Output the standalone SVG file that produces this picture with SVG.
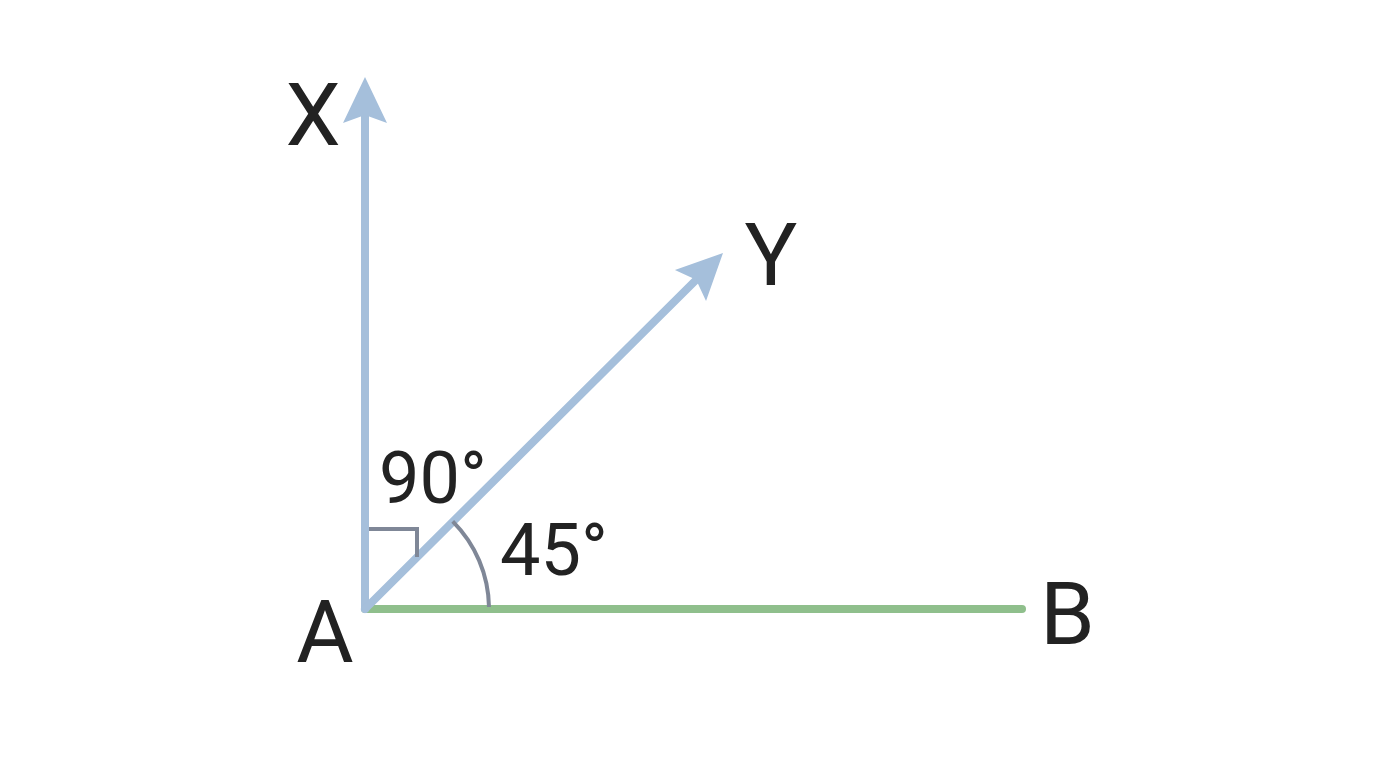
<svg xmlns="http://www.w3.org/2000/svg" width="1376" height="768" viewBox="0 0 1376 768">
<style>
.lbl{font-family:Roboto,"Liberation Sans",sans-serif;fill:#222222}
.big{font-size:88px}
.deg{font-size:72px}
.ray{stroke:#a5bfdb;stroke-width:8;stroke-linecap:round;fill:none}
.base{stroke:#8fbf8c;stroke-width:8;stroke-linecap:round;fill:none}
.mark{stroke:#7f8797;stroke-width:4;fill:none}
.head{fill:#a5bfdb}
</style>
<defs>
<path id="ah" d="M0,0 L-46,-22 L-38,0 L-46,22 Z"/>
</defs>
<rect width="1376" height="768" fill="#ffffff"/>
<g id="connectors">
<line class="base" x1="365" y1="609" x2="1022" y2="609"/>
<line class="ray" x1="365" y1="609" x2="365" y2="116"/>
<line class="ray" x1="365" y1="609" x2="697" y2="279"/>
<use href="#ah" class="head" transform="translate(365,77) rotate(-90)"/>
<use href="#ah" class="head" transform="translate(723,253) rotate(-45)"/>
</g>
<g id="marks">
<polyline class="mark" points="369,529 417,529 417,557"/>
<path class="mark" d="M489,607 A124,124 0 0 0 452.7,521.3"/>
</g>
<g id="node-X"><text class="lbl big" x="313" y="145" text-anchor="middle">X</text></g>
<g id="node-Y"><text class="lbl big" x="771" y="285" text-anchor="middle">Y</text></g>
<g id="node-A"><text class="lbl big" x="325" y="662" text-anchor="middle">A</text></g>
<g id="node-B"><text class="lbl big" x="1040" y="644">B</text></g>
<g id="label-90"><text class="lbl deg" x="379" y="503">90°</text></g>
<g id="label-45"><text class="lbl deg" x="500" y="575">45°</text></g>
</svg>
